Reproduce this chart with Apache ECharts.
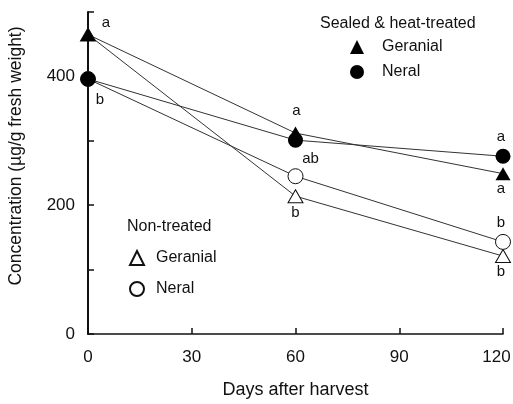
<!DOCTYPE html>
<html>
<head>
<meta charset="utf-8">
<script src="https://cdn.jsdelivr.net/npm/echarts@6/dist/echarts.min.js"></script>
<style>
  html, body { margin: 0; padding: 0; background: #fff; }
  #main { width: 513px; height: 404px; }
</style>
</head>
<body>
<div id="main"></div>
<script>
// 数据
const days = [0, 60, 120]
const sealedGeranial = [465, 312, 249]
const sealedNeral = [396, 301, 276]
const nonGeranial = [465, 214, 121]
const nonNeral = [396, 245, 143]
// significance letters
const sealedGeranialSig = ['a', 'a', 'a']
const sealedNeralSig = ['b', '', 'a']
const nonGeranialSig = ['', 'b', 'b']
const nonNeralSig = ['', 'ab', 'b']
const yTickLabels = ['0', '200', '400']

const font = 'Liberation Sans, Arial, sans-serif'

// where each letter sits relative to its point
const labelOffsets = {
  sg: [[18, -12], [1, -22], [-2, 15]],
  sn: [[12, 21], [0, 0], [-2, -19]],
  ng: [[0, 0], [0, 17], [-2, 16]],
  nn: [[0, 0], [15, -17], [-2, -19]]
}

function buildData (vals, sig, offs) {
  return vals.map(function (v, i) {
    return {
      value: [days[i], v],
      label: {
        show: sig[i] !== '',
        formatter: sig[i],
        position: 'inside',
        offset: offs[i],
        color: '#111',
        fontSize: 15,
        fontFamily: font
      }
    }
  })
}

function makeLine (name, vals, sig, offs, symbol, filled) {
  return {
    name: name,
    type: 'line',
    data: buildData(vals, sig, offs),
    symbol: symbol,
    symbolSize: symbol === 'triangle' ? [15, 13] : 15,
    showAllSymbol: true,
    lineStyle: { color: '#333', width: 1 },
    itemStyle: {
      color: filled ? '#000' : '#fff',
      borderColor: '#111',
      borderWidth: filled ? 0 : 1
    },
    emphasis: { disabled: true },
    z: filled ? 3 : 2
  }
}

const chart = echarts.init(document.getElementById('main'))
chart.setOption({
  animation: false,
  backgroundColor: '#fff',
  title: [
    {
      text: 'Sealed & heat-treated',
      left: 315, top: 11,
      textStyle: { fontSize: 16, fontWeight: 'normal', color: '#111', fontFamily: font }
    },
    {
      text: 'Non-treated',
      left: 122, top: 214,
      textStyle: { fontSize: 16, fontWeight: 'normal', color: '#111', fontFamily: font }
    }
  ],
  legend: [
    {
      data: [
        { name: 'Sealed & heat-treated Geranial', icon: 'triangle' },
        { name: 'Sealed & heat-treated Neral', icon: 'circle' }
      ],
      orient: 'vertical',
      left: 345, top: 34,
      itemWidth: 14, itemHeight: 14, itemGap: 9,
      formatter: function (n) { return n.replace('Sealed & heat-treated ', '') },
      textStyle: { fontSize: 16, color: '#111', fontFamily: font, padding: [0, 0, 0, 13] }
    },
    {
      data: [
        { name: 'Non-treated Geranial', icon: 'triangle' },
        { name: 'Non-treated Neral', icon: 'circle' }
      ],
      orient: 'vertical',
      left: 124, top: 245,
      itemWidth: 14, itemHeight: 14, itemGap: 15,
      formatter: function (n) { return n.replace('Non-treated ', '') },
      textStyle: { fontSize: 16, color: '#111', fontFamily: font, padding: [0, 0, 0, 7] }
    }
  ],
  grid: { left: 88, right: 10, top: 12, bottom: 70, outerBoundsMode: 'none' },
  xAxis: {
    type: 'value',
    min: 0, max: 120, interval: 30,
    name: 'Days after harvest',
    nameLocation: 'middle',
    nameGap: 47,
    nameTextStyle: { fontSize: 18, color: '#111', fontFamily: font },
    axisLine: { lineStyle: { color: '#111', width: 1.5 } },
    axisTick: { inside: true, length: 6, lineStyle: { color: '#111', width: 1.5 } },
    axisLabel: {
      fontSize: 17, color: '#111', fontFamily: font, margin: 15,
      // last label sits a little left of its tick, as in the original
      formatter: function (v) { return v === 120 ? '{r|' + v + '}' : String(v) },
      rich: { r: { fontSize: 17, color: '#111', fontFamily: font, padding: [0, 13, 0, 0] } }
    },
    splitLine: { show: false }
  },
  yAxis: {
    type: 'value',
    min: 0, max: 500, interval: 100,
    name: 'Concentration (µg/g fresh weight)',
    nameLocation: 'middle',
    nameGap: 63,
    nameTextStyle: { fontSize: 17.5, color: '#111', fontFamily: font, padding: [0, 0, 0, 34] },
    axisLine: { show: true, lineStyle: { color: '#111', width: 2 } },
    axisTick: { show: true, inside: true, length: 6, lineStyle: { color: '#111', width: 1.5 } },
    axisLabel: {
      fontSize: 17, color: '#111', fontFamily: font, margin: 13,
      formatter: function (v) {
        return yTickLabels.indexOf(String(v)) >= 0 ? String(v) : ''
      }
    },
    splitLine: { show: false }
  },
  series: [
    makeLine('Non-treated Geranial', nonGeranial, nonGeranialSig, labelOffsets.ng, 'triangle', false),
    makeLine('Non-treated Neral', nonNeral, nonNeralSig, labelOffsets.nn, 'circle', false),
    makeLine('Sealed & heat-treated Geranial', sealedGeranial, sealedGeranialSig, labelOffsets.sg, 'triangle', true),
    makeLine('Sealed & heat-treated Neral', sealedNeral, sealedNeralSig, labelOffsets.sn, 'circle', true)
  ]
})
</script>
</body>
</html>
